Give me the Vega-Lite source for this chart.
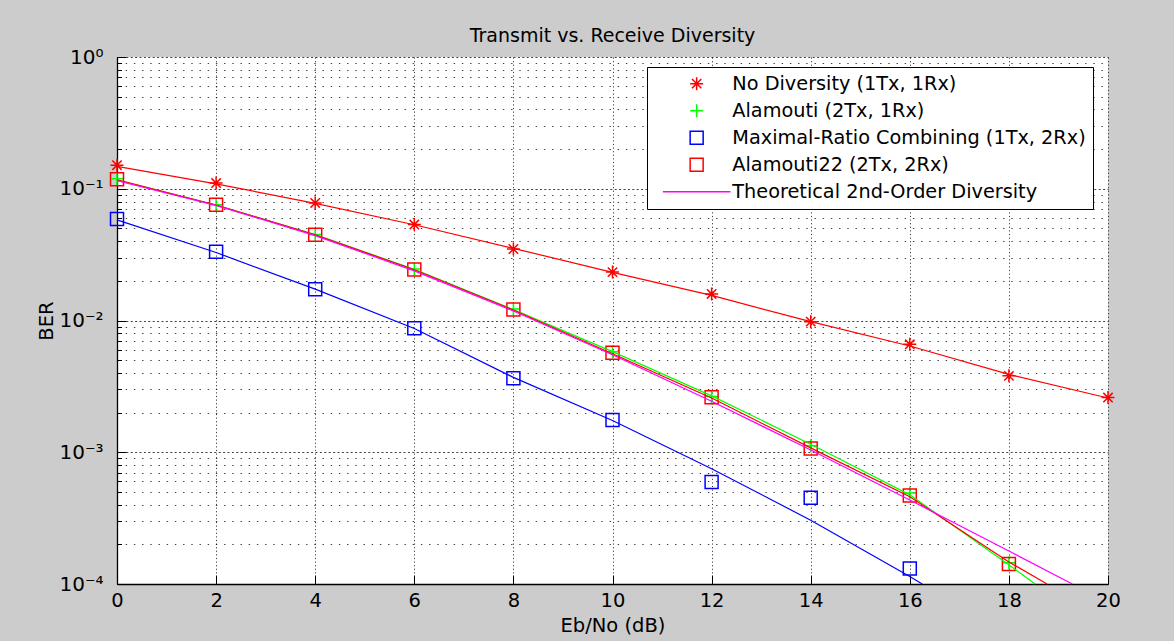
{
  "$schema": "https://vega.github.io/schema/vega-lite/v6.json",
  "width": 991,
  "height": 527,
  "autosize": {"type": "none"},
  "padding": {"left": 117, "top": 57, "right": 66, "bottom": 57},
  "background": "#CCCCCC",
  "config": {
    "view": {"fill": "white", "stroke": null},
    "font": "DejaVu Sans"
  },
  "title": {
    "text": "Transmit vs. Receive Diversity",
    "font": "DejaVu Sans",
    "fontSize": 19,
    "fontWeight": "normal",
    "color": "black",
    "anchor": "middle",
    "offset": 1
  },
  "datasets": {
    "markers": [
      {"snr": 0, "ber": 0.151, "series": "No Diversity (1Tx, 1Rx)"},
      {"snr": 2, "ber": 0.1105, "series": "No Diversity (1Tx, 1Rx)"},
      {"snr": 4, "ber": 0.078, "series": "No Diversity (1Tx, 1Rx)"},
      {"snr": 6, "ber": 0.0535, "series": "No Diversity (1Tx, 1Rx)"},
      {"snr": 8, "ber": 0.0349, "series": "No Diversity (1Tx, 1Rx)"},
      {"snr": 10, "ber": 0.0233, "series": "No Diversity (1Tx, 1Rx)"},
      {"snr": 12, "ber": 0.0159, "series": "No Diversity (1Tx, 1Rx)"},
      {"snr": 14, "ber": 0.0098, "series": "No Diversity (1Tx, 1Rx)"},
      {"snr": 16, "ber": 0.0066, "series": "No Diversity (1Tx, 1Rx)"},
      {"snr": 18, "ber": 0.0038, "series": "No Diversity (1Tx, 1Rx)"},
      {"snr": 20, "ber": 0.0026, "series": "No Diversity (1Tx, 1Rx)"},
      {"snr": 0, "ber": 0.119, "series": "Alamouti (2Tx, 1Rx)"},
      {"snr": 2, "ber": 0.0757, "series": "Alamouti (2Tx, 1Rx)"},
      {"snr": 4, "ber": 0.0449, "series": "Alamouti (2Tx, 1Rx)"},
      {"snr": 6, "ber": 0.0246, "series": "Alamouti (2Tx, 1Rx)"},
      {"snr": 8, "ber": 0.0122, "series": "Alamouti (2Tx, 1Rx)"},
      {"snr": 10, "ber": 0.0058, "series": "Alamouti (2Tx, 1Rx)"},
      {"snr": 12, "ber": 0.00265, "series": "Alamouti (2Tx, 1Rx)"},
      {"snr": 14, "ber": 0.00112, "series": "Alamouti (2Tx, 1Rx)"},
      {"snr": 16, "ber": 0.00049, "series": "Alamouti (2Tx, 1Rx)"},
      {"snr": 18, "ber": 0.000145, "series": "Alamouti (2Tx, 1Rx)"},
      {"snr": 0, "ber": 0.059, "series": "Maximal-Ratio Combining (1Tx, 2Rx)"},
      {"snr": 2, "ber": 0.0333, "series": "Maximal-Ratio Combining (1Tx, 2Rx)"},
      {"snr": 4, "ber": 0.0173, "series": "Maximal-Ratio Combining (1Tx, 2Rx)"},
      {"snr": 6, "ber": 0.00875, "series": "Maximal-Ratio Combining (1Tx, 2Rx)"},
      {"snr": 8, "ber": 0.00365, "series": "Maximal-Ratio Combining (1Tx, 2Rx)"},
      {"snr": 10, "ber": 0.00176, "series": "Maximal-Ratio Combining (1Tx, 2Rx)"},
      {"snr": 12, "ber": 0.000595, "series": "Maximal-Ratio Combining (1Tx, 2Rx)"},
      {"snr": 14, "ber": 0.000452, "series": "Maximal-Ratio Combining (1Tx, 2Rx)"},
      {"snr": 16, "ber": 0.000131, "series": "Maximal-Ratio Combining (1Tx, 2Rx)"},
      {"snr": 0, "ber": 0.118, "series": "Alamouti22 (2Tx, 2Rx)"},
      {"snr": 2, "ber": 0.0755, "series": "Alamouti22 (2Tx, 2Rx)"},
      {"snr": 4, "ber": 0.0447, "series": "Alamouti22 (2Tx, 2Rx)"},
      {"snr": 6, "ber": 0.0244, "series": "Alamouti22 (2Tx, 2Rx)"},
      {"snr": 8, "ber": 0.0121, "series": "Alamouti22 (2Tx, 2Rx)"},
      {"snr": 10, "ber": 0.0057, "series": "Alamouti22 (2Tx, 2Rx)"},
      {"snr": 12, "ber": 0.00262, "series": "Alamouti22 (2Tx, 2Rx)"},
      {"snr": 14, "ber": 0.00107, "series": "Alamouti22 (2Tx, 2Rx)"},
      {"snr": 16, "ber": 0.00047, "series": "Alamouti22 (2Tx, 2Rx)"},
      {"snr": 18, "ber": 0.000142, "series": "Alamouti22 (2Tx, 2Rx)"}
    ],
    "fits": [
      {"snr": 0, "ber": 0.148, "series": "No Diversity (1Tx, 1Rx)"},
      {"snr": 2, "ber": 0.109, "series": "No Diversity (1Tx, 1Rx)"},
      {"snr": 4, "ber": 0.0775, "series": "No Diversity (1Tx, 1Rx)"},
      {"snr": 6, "ber": 0.0533, "series": "No Diversity (1Tx, 1Rx)"},
      {"snr": 8, "ber": 0.0353, "series": "No Diversity (1Tx, 1Rx)"},
      {"snr": 10, "ber": 0.0232, "series": "No Diversity (1Tx, 1Rx)"},
      {"snr": 12, "ber": 0.0155, "series": "No Diversity (1Tx, 1Rx)"},
      {"snr": 14, "ber": 0.0098, "series": "No Diversity (1Tx, 1Rx)"},
      {"snr": 16, "ber": 0.0064, "series": "No Diversity (1Tx, 1Rx)"},
      {"snr": 18, "ber": 0.0039, "series": "No Diversity (1Tx, 1Rx)"},
      {"snr": 20, "ber": 0.00258, "series": "No Diversity (1Tx, 1Rx)"},
      {"snr": 0, "ber": 0.117, "series": "Alamouti (2Tx, 1Rx)"},
      {"snr": 2, "ber": 0.0752, "series": "Alamouti (2Tx, 1Rx)"},
      {"snr": 4, "ber": 0.0448, "series": "Alamouti (2Tx, 1Rx)"},
      {"snr": 6, "ber": 0.0245, "series": "Alamouti (2Tx, 1Rx)"},
      {"snr": 8, "ber": 0.0121, "series": "Alamouti (2Tx, 1Rx)"},
      {"snr": 10, "ber": 0.0058, "series": "Alamouti (2Tx, 1Rx)"},
      {"snr": 12, "ber": 0.00268, "series": "Alamouti (2Tx, 1Rx)"},
      {"snr": 14, "ber": 0.00115, "series": "Alamouti (2Tx, 1Rx)"},
      {"snr": 16, "ber": 0.000475, "series": "Alamouti (2Tx, 1Rx)"},
      {"snr": 18, "ber": 0.00014, "series": "Alamouti (2Tx, 1Rx)"},
      {"snr": 18.53, "ber": 0.0001, "series": "Alamouti (2Tx, 1Rx)"},
      {"snr": 0, "ber": 0.058, "series": "Maximal-Ratio Combining (1Tx, 2Rx)"},
      {"snr": 2, "ber": 0.0328, "series": "Maximal-Ratio Combining (1Tx, 2Rx)"},
      {"snr": 4, "ber": 0.0173, "series": "Maximal-Ratio Combining (1Tx, 2Rx)"},
      {"snr": 6, "ber": 0.0087, "series": "Maximal-Ratio Combining (1Tx, 2Rx)"},
      {"snr": 8, "ber": 0.0037, "series": "Maximal-Ratio Combining (1Tx, 2Rx)"},
      {"snr": 10, "ber": 0.00174, "series": "Maximal-Ratio Combining (1Tx, 2Rx)"},
      {"snr": 12, "ber": 0.00075, "series": "Maximal-Ratio Combining (1Tx, 2Rx)"},
      {"snr": 14, "ber": 0.000305, "series": "Maximal-Ratio Combining (1Tx, 2Rx)"},
      {"snr": 16, "ber": 0.000114, "series": "Maximal-Ratio Combining (1Tx, 2Rx)"},
      {"snr": 16.25, "ber": 0.0001, "series": "Maximal-Ratio Combining (1Tx, 2Rx)"},
      {"snr": 0, "ber": 0.117, "series": "Alamouti22 (2Tx, 2Rx)"},
      {"snr": 2, "ber": 0.0752, "series": "Alamouti22 (2Tx, 2Rx)"},
      {"snr": 4, "ber": 0.0447, "series": "Alamouti22 (2Tx, 2Rx)"},
      {"snr": 6, "ber": 0.0243, "series": "Alamouti22 (2Tx, 2Rx)"},
      {"snr": 8, "ber": 0.012, "series": "Alamouti22 (2Tx, 2Rx)"},
      {"snr": 10, "ber": 0.0056, "series": "Alamouti22 (2Tx, 2Rx)"},
      {"snr": 12, "ber": 0.00258, "series": "Alamouti22 (2Tx, 2Rx)"},
      {"snr": 14, "ber": 0.00108, "series": "Alamouti22 (2Tx, 2Rx)"},
      {"snr": 16, "ber": 0.00046, "series": "Alamouti22 (2Tx, 2Rx)"},
      {"snr": 18, "ber": 0.000147, "series": "Alamouti22 (2Tx, 2Rx)"},
      {"snr": 18.77, "ber": 0.0001, "series": "Alamouti22 (2Tx, 2Rx)"},
      {"snr": 0, "ber": 0.115, "series": "Theoretical 2nd-Order Diversity"},
      {"snr": 2, "ber": 0.0747, "series": "Theoretical 2nd-Order Diversity"},
      {"snr": 4, "ber": 0.0441, "series": "Theoretical 2nd-Order Diversity"},
      {"snr": 6, "ber": 0.0238, "series": "Theoretical 2nd-Order Diversity"},
      {"snr": 8, "ber": 0.0118, "series": "Theoretical 2nd-Order Diversity"},
      {"snr": 10, "ber": 0.0055, "series": "Theoretical 2nd-Order Diversity"},
      {"snr": 12, "ber": 0.00244, "series": "Theoretical 2nd-Order Diversity"},
      {"snr": 14, "ber": 0.00104, "series": "Theoretical 2nd-Order Diversity"},
      {"snr": 16, "ber": 0.000434, "series": "Theoretical 2nd-Order Diversity"},
      {"snr": 18, "ber": 0.000178, "series": "Theoretical 2nd-Order Diversity"},
      {"snr": 19.28, "ber": 0.0001, "series": "Theoretical 2nd-Order Diversity"}
    ]
  },
  "encoding": {
    "x": {
      "field": "snr",
      "type": "quantitative",
      "scale": {"domain": [0, 20], "nice": false, "zero": false},
      "axis": {
        "values": [0, 2, 4, 6, 8, 10, 12, 14, 16, 18, 20],
        "title": "Eb/No (dB)",
        "titleFont": "DejaVu Sans",
        "titleFontSize": 19.5,
        "titleFontWeight": "normal",
        "titleColor": "black",
        "titlePadding": 7,
        "labelFont": "DejaVu Sans",
        "labelFontSize": 19.5,
        "labelColor": "black",
        "labelFlush": false,
        "labelOverlap": false,
        "labelPadding": 16,
        "tickSize": -9,
        "tickColor": "black",
        "tickWidth": 1,
        "domainColor": "black",
        "domainWidth": 1.3,
        "grid": true,
        "gridColor": "black",
        "gridOpacity": 0.75,
        "gridWidth": 1,
        "gridDash": [1.2, 2.4]
      }
    },
    "y": {
      "field": "ber",
      "type": "quantitative",
      "scale": {"type": "log", "domain": [0.0001, 1], "nice": false},
      "axis": {
        "values": [0.0001, 0.0002, 0.0003, 0.0004, 0.0005, 0.0006, 0.0007, 0.0008, 0.0009,
                   0.001, 0.002, 0.003, 0.004, 0.005, 0.006, 0.007, 0.008, 0.009,
                   0.01, 0.02, 0.03, 0.04, 0.05, 0.06, 0.07, 0.08, 0.09,
                   0.1, 0.2, 0.3, 0.4, 0.5, 0.6, 0.7, 0.8, 0.9, 1],
        "labelExpr": "datum.value == 1 ? '10⁰' : datum.value == 0.1 ? '10⁻¹' : datum.value == 0.01 ? '10⁻²' : datum.value == 0.001 ? '10⁻³' : datum.value == 0.0001 ? '10⁻⁴' : ''",
        "title": "BER",
        "titleFont": "DejaVu Sans",
        "titleFontSize": 19.5,
        "titleFontWeight": "normal",
        "titleColor": "black",
        "titlePadding": 2,
        "labelFont": "DejaVu Sans",
        "labelFontSize": 20,
        "labelColor": "black",
        "labelFlush": false,
        "labelOverlap": false,
        "labelBound": false,
        "labelPadding": 23,
        "tickSize": {"condition": {"test": "datum.value == 1 || datum.value == 0.1 || datum.value == 0.01 || datum.value == 0.001 || datum.value == 0.0001", "value": -9}, "value": -4.5},
        "tickColor": "black",
        "tickWidth": 1,
        "domainColor": "black",
        "domainWidth": 1.3,
        "grid": true,
        "gridColor": "black",
        "gridOpacity": 0.75,
        "gridWidth": 1,
        "gridDash": {"condition": {"test": "datum.value == 1 || datum.value == 0.1 || datum.value == 0.01 || datum.value == 0.001 || datum.value == 0.0001", "value": [2, 2.4]}, "value": [1.4, 6.8]}
      }
    }
  },
  "layer": [
    {
      "data": {"name": "markers"},
      "mark": {"type": "point", "filled": false, "size": 169, "strokeWidth": 1.5, "opacity": 1},
      "encoding": {
        "color": {
          "field": "series",
          "type": "nominal",
          "scale": {
            "domain": ["No Diversity (1Tx, 1Rx)", "Alamouti (2Tx, 1Rx)", "Maximal-Ratio Combining (1Tx, 2Rx)", "Alamouti22 (2Tx, 2Rx)", "Theoretical 2nd-Order Diversity"],
            "range": ["#FF0000", "#00FF00", "#0000FF", "#FF0000", "#FF00FF"]
          },
          "legend": {
            "title": null,
            "orient": "none",
            "legendX": 530,
            "legendY": 10,
            "fillColor": "white",
            "strokeColor": "black",
            "padding": 7,
            "symbolOffset": 33,
            "labelOffset": 26,
            "rowPadding": 7,
            "symbolSize": 169,
            "symbolStrokeWidth": 1.5,
            "labelFont": "DejaVu Sans",
            "labelFontSize": 19.3,
            "labelColor": "black",
            "labelLimit": 500
          }
        },
        "shape": {
          "field": "series",
          "type": "nominal",
          "scale": {
            "domain": ["No Diversity (1Tx, 1Rx)", "Alamouti (2Tx, 1Rx)", "Maximal-Ratio Combining (1Tx, 2Rx)", "Alamouti22 (2Tx, 2Rx)", "Theoretical 2nd-Order Diversity"],
            "range": ["M-1,0L1,0M0,-1L0,1M-0.72,-0.72L0.72,0.72M-0.72,0.72L0.72,-0.72", "M-1,0L1,0M0,-1L0,1", "square", "square", "M-5.2,0L5.2,0"]
          },
          "legend": {
            "title": null,
            "orient": "none",
            "legendX": 530,
            "legendY": 10,
            "fillColor": "white",
            "strokeColor": "black",
            "padding": 7,
            "symbolOffset": 33,
            "labelOffset": 26,
            "rowPadding": 7,
            "symbolSize": 169,
            "symbolStrokeWidth": 1.5,
            "labelFont": "DejaVu Sans",
            "labelFontSize": 19.3,
            "labelColor": "black",
            "labelLimit": 500
          }
        }
      }
    },
    {
      "data": {"name": "fits"},
      "mark": {"type": "line", "strokeWidth": 1.2},
      "encoding": {
        "color": {"field": "series", "type": "nominal"}
      }
    }
  ]
}
